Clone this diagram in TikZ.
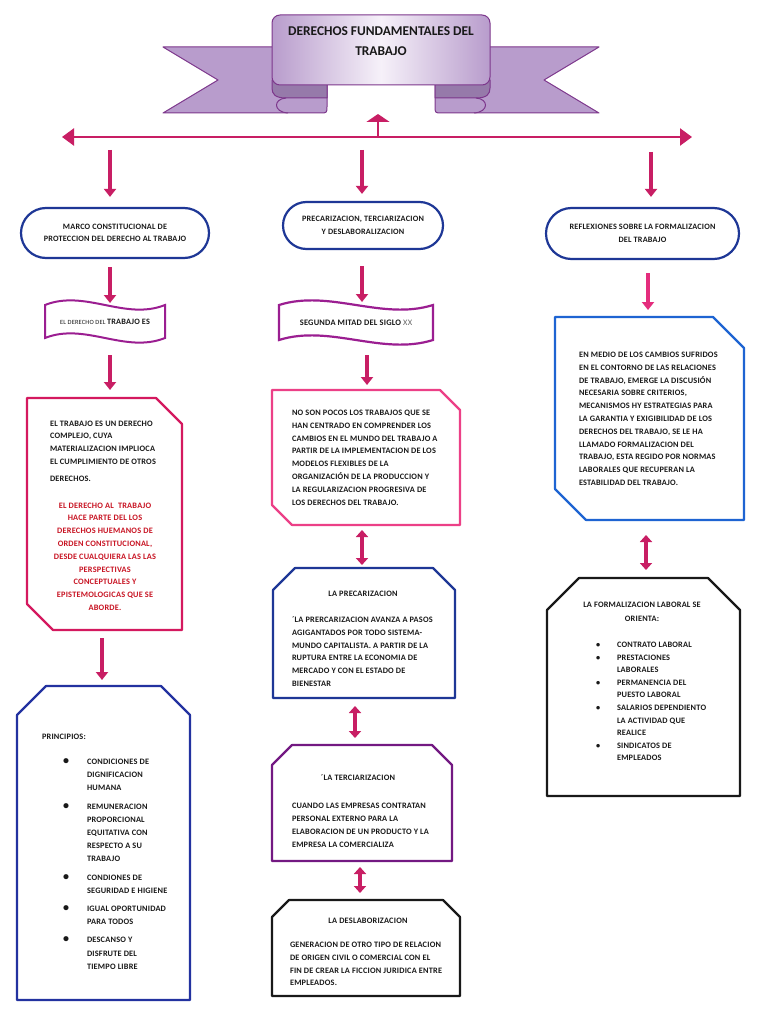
\documentclass[tikz,border=0pt]{standalone}
\usepackage{fontspec}
\setmainfont{Carlito}
\newfontfamily\spfont{Carlito}[LetterSpace=2.5]
\usetikzlibrary{arrows.meta,shapes.misc}
\definecolor{apink}{RGB}{200,30,100}
\definecolor{apinkb}{RGB}{228,45,125}
\definecolor{tblue}{RGB}{30,55,150}
\definecolor{wavec}{RGB}{155,30,145}
\definecolor{crim}{RGB}{212,25,95}
\definecolor{lpink}{RGB}{236,64,135}
\definecolor{dblue}{RGB}{35,50,160}
\definecolor{lblue}{RGB}{30,100,210}
\definecolor{purp}{RGB}{115,25,130}
\definecolor{tblack}{RGB}{25,25,25}
\definecolor{tred}{RGB}{200,20,35}
\definecolor{banwing}{RGB}{184,156,204}
\definecolor{banfold}{RGB}{150,122,170}
\definecolor{banline}{RGB}{125,55,140}
\definecolor{banmid}{RGB}{246,241,249}
\newcommand\Blk[2]{\begin{tabular}[t]{@{}#1@{}}#2\end{tabular}}
\newcommand\BoxNESW[3]{\draw[#3] (#1.north west) -- ([xshift=-#2]#1.north east) -- ([yshift=-#2]#1.north east) -- (#1.south east) -- ([xshift=#2]#1.south west) -- ([yshift=#2]#1.south west) -- cycle;}
\newcommand\BoxTop[3]{\draw[#3] ([yshift=-#2]#1.north west) -- ([xshift=#2]#1.north west) -- ([xshift=-#2]#1.north east) -- ([yshift=-#2]#1.north east) -- (#1.south east) -- (#1.south west) -- cycle;}
\newcommand\Wave[3]{\draw[#3] (#1.north west) .. controls +(#2,-16) and +(-#2,16) .. (#1.north east) -- (#1.south east) .. controls +(-#2,16) and +(#2,-16) .. (#1.south west) -- cycle;}
\begin{document}
\begin{tikzpicture}[x=1pt,y=-1pt,
 arr/.style={draw=apink, line width=4pt, -{Triangle[width=12pt,length=8pt]}},
 darr/.style={draw=apink, line width=4pt, {Triangle[width=12pt,length=7pt]}-{Triangle[width=12pt,length=7pt]}},
 frame/.style 2 args={rectangle, inner sep=0pt, outer sep=0pt, minimum width=#1, minimum height=#2},
 term/.style={rounded rectangle, draw=tblue, line width=2.2pt, inner sep=0pt, align=center, font=\spfont\fontsize{8.2}{12}\selectfont\bfseries, text=tblack},
 txt/.style={inner sep=0pt, outer sep=0pt, font=\spfont\fontsize{8.3}{12.8}\selectfont\bfseries, text=tblack},
 boxline/.style={line width=2.2pt, line join=round},
 banl/.style={draw=banline, line width=1pt, line join=round}
]
\useasboundingbox (0,0) rectangle (768,1024);
\fill[white] (0,0) rectangle (768,1024);

% ---------- banner ----------
\filldraw[banl, fill=banwing] (163,47) -- (327,47) -- (327,106) .. controls (327,113) .. (320,113) -- (163,113) -- (218,80) -- cycle;
\filldraw[banl, fill=banwing] (599,47) -- (435,47) -- (435,106) .. controls (435,113) .. (442,113) -- (599,113) -- (544,80) -- cycle;
\filldraw[banl, fill=banfold] (272,80) -- (327,80) -- (327,98) -- (286,98) .. controls (275,98) and (272,94) .. (272,88) -- cycle;
\filldraw[banl, fill=banfold] (490,80) -- (435,80) -- (435,98) -- (476,98) .. controls (487,98) and (490,94) .. (490,88) -- cycle;
\draw[banl] (286,98) .. controls (273,99) and (273,112) .. (288,113);
\draw[banl] (476,98) .. controls (489,99) and (489,112) .. (474,113);
\path[banl, left color=banwing, right color=banwing, middle color=banmid, rounded corners=8] (272,85) -- (272,15) -- (490,15) -- (490,85) -- cycle;
\node[inner sep=0pt, align=center, font=\fontsize{13.4}{20}\selectfont\bfseries, text=tblack] (title) at (381,41) {DERECHOS FUNDAMENTALES DEL\\TRABAJO};

% ---------- top line ----------
\coordinate (hl) at (62,137);
\coordinate (hr) at (692,137);
\coordinate (up) at (378,137);
\coordinate (uptip) at (378,114);
\draw[apink, line width=2.4pt, {Triangle[width=17pt,length=12pt]}-{Triangle[width=17pt,length=12pt]}] (hl) -- (hr);
\draw[apink, line width=2.4pt, -{Triangle[width=23pt,length=8pt]}] (up) -- (uptip);
\coordinate (d1) at (110,137);
\coordinate (d2) at (362,137);
\coordinate (d3) at (651,137);

% ---------- left column ----------
\node[term, minimum width=188pt, minimum height=50pt] (m1) at (115,233) {MARCO CONSTITUCIONAL DE\\PROTECCION DEL DERECHO AL TRABAJO};
\node[frame={120pt}{33pt}, text=tblack] (m2) at (105,321.5) {{\spfont\fontsize{6.4}{7}\selectfont EL DERECHO DEL }{\spfont\fontsize{8.2}{9}\selectfont\bfseries TRABAJO ES}};
\Wave{m2}{40}{line width=2pt, draw=wavec}
\node[frame={155pt}{232pt}] (m3) at (104.5,514) {};
\BoxNESW{m3}{26pt}{boxline, draw=crim}
\node[txt, anchor=base west] (m3a) at (50,426) {\Blk{l}{EL TRABAJO ES UN DERECHO\\COMPLEJO, CUYA\\MATERIALIZACION IMPLIOCA\\EL CUMPLIMIENTO DE OTROS\\[4pt]DERECHOS.}};
\node[txt, anchor=base, text=tred] (m3b) at (105,508) {\Blk{c}{EL DERECHO AL\ \ TRABAJO\\HACE PARTE DEL LOS\\DERECHOS HUEMANOS DE\\ORDEN CONSTITUCIONAL,\\DESDE CUALQUIERA LAS LAS\\PERSPECTIVAS\\CONCEPTUALES Y\\EPISTEMOLOGICAS QUE SE\\ABORDE.}};
\node[frame={173pt}{314pt}] (m4) at (103.5,843) {};
\BoxTop{m4}{29pt}{boxline, draw=dblue}
\node[txt, anchor=base west] (m4a) at (42,739.5) {PRINCIPIOS:};
\node[txt, anchor=base west, font=\spfont\fontsize{8.3}{13.2}\selectfont\bfseries] (m4b) at (63,764.5) {\Blk{p{24pt}@{}l}{{\large •} & CONDICIONES DE\\ & DIGNIFICACION\\ & HUMANA\\[5pt]
{\large •} & REMUNERACION\\ & PROPORCIONAL\\ & EQUITATIVA CON\\ & RESPECTO A SU\\ & TRABAJO\\[5pt]
{\large •} & CONDIONES DE\\ & SEGURIDAD E HIGIENE\\[5pt]
{\large •} & IGUAL OPORTUNIDAD\\ & PARA TODOS\\[5pt]
{\large •} & DESCANSO Y\\ & DISFRUTE DEL\\ & TIEMPO LIBRE}};

% ---------- middle column ----------
\node[term, minimum width=160pt, minimum height=47pt, font=\spfont\fontsize{8.2}{13}\selectfont\bfseries] (c1) at (363,225.5) {PRECARIZACION, TERCIARIZACION\\Y DESLABORALIZACION};
\node[frame={154pt}{35pt}, font=\spfont\fontsize{8.4}{9}\selectfont\bfseries, text=tblack] (c2) at (356,322.5) {SEGUNDA MITAD DEL SIGLO {\mdseries\color{black!60}XX}};
\Wave{c2}{51}{line width=2.2pt, draw=wavec}
\node[frame={188pt}{135pt}] (c3) at (366,457.5) {};
\BoxNESW{c3}{20pt}{boxline, draw=lpink}
\node[txt, anchor=base west] (c3a) at (292,415.5) {\Blk{l}{NO SON POCOS LOS TRABAJOS QUE SE\\HAN CENTRADO EN COMPRENDER LOS\\CAMBIOS EN EL MUNDO DEL TRABAJO A\\PARTIR DE LA IMPLEMENTACION DE LOS\\MODELOS FLEXIBLES DE LA\\ORGANIZACIÓN DE LA PRODUCCION Y\\LA REGULARIZACION PROGRESIVA DE\\LOS DERECHOS DEL TRABAJO.}};
\node[frame={182pt}{130pt}] (c4) at (364,633) {};
\BoxTop{c4}{22pt}{boxline, draw=tblue}
\node[txt, anchor=base] (c4a) at (363,596.5) {LA PRECARIZACION};
\node[txt, anchor=base west] (c4b) at (292,622.5) {\Blk{l}{´LA PRERCARIZACION AVANZA A PASOS\\AGIGANTADOS POR TODO SISTEMA-\\MUNDO CAPITALISTA. A PARTIR DE LA\\RUPTURA ENTRE LA ECONOMIA DE\\MERCADO Y CON EL ESTADO DE\\BIENESTAR}};
\node[frame={180pt}{116pt}] (c5) at (362,803) {};
\BoxTop{c5}{20pt}{boxline, draw=purp}
\node[txt, anchor=base] (c5a) at (358,780.5) {´LA TERCIARIZACION};
\node[txt, anchor=base west, font=\spfont\fontsize{8.3}{13}\selectfont\bfseries] (c5b) at (292,808.5) {\Blk{l}{CUANDO LAS EMPRESAS CONTRATAN\\PERSONAL EXTERNO PARA LA\\ELABORACION DE UN PRODUCTO Y LA\\EMPRESA LA COMERCIALIZA}};
\node[frame={188pt}{96pt}] (c6) at (366,948) {};
\BoxTop{c6}{17pt}{boxline, draw=tblack}
\node[txt, anchor=base] (c6a) at (368,923.5) {LA DESLABORIZACION};
\node[txt, anchor=base west] (c6b) at (290,947.5) {\Blk{l}{GENERACION DE OTRO TIPO DE RELACION\\DE ORIGEN CIVIL O COMERCIAL CON EL\\FIN DE CREAR LA FICCION JURIDICA ENTRE\\EMPLEADOS.}};

% ---------- right column ----------
\node[term, minimum width=193pt, minimum height=51pt, font=\spfont\fontsize{8.2}{13}\selectfont\bfseries] (r1) at (642.5,233.5) {REFLEXIONES SOBRE LA FORMALIZACION\\DEL TRABAJO};
\node[frame={189pt}{203pt}] (r2) at (649.5,418.5) {};
\BoxNESW{r2}{31pt}{boxline, draw=lblue}
\node[txt, anchor=base west] (r2a) at (579,357.5) {\Blk{l}{EN MEDIO DE LOS CAMBIOS SUFRIDOS\\EN EL CONTORNO DE LAS RELACIONES\\DE TRABAJO, EMERGE LA DISCUSIÓN\\NECESARIA SOBRE CRITERIOS,\\MECANISMOS HY ESTRATEGIAS PARA\\LA GARANTIA Y EXIGIBILIDAD DE LOS\\DERECHOS DEL TRABAJO, SE LE HA\\LLAMADO FORMALIZACION DEL\\TRABAJO, ESTA REGIDO POR NORMAS\\LABORALES QUE RECUPERAN LA\\ESTABILIDAD DEL TRABAJO.}};
\node[frame={193pt}{218pt}] (r3) at (643.5,687) {};
\BoxTop{r3}{32pt}{boxline, draw=tblack}
\node[txt, anchor=base, font=\spfont\fontsize{8.3}{14}\selectfont\bfseries] (r3a) at (642,607.5) {\Blk{c}{LA FORMALIZACION LABORAL SE\\ORIENTA:}};
\node[txt, anchor=base west, font=\spfont\fontsize{8.3}{12.6}\selectfont\bfseries] (r3b) at (596,647.5) {\Blk{p{21pt}@{}l}{• & CONTRATO LABORAL\\• & PRESTACIONES\\ & LABORALES\\• & PERMANENCIA DEL\\ & PUESTO LABORAL\\• & SALARIOS DEPENDIENTO\\ & LA ACTIVIDAD QUE\\ & REALICE\\• & SINDICATOS DE\\ & EMPLEADOS}};

% ---------- connectors ----------
\draw[arr, shorten <=13pt, shorten >=10pt] (d1) -- (d1 |- m1.north);
\draw[arr, shorten <=13pt, shorten >=7pt] (d2) -- (d2 |- c1.north);
\draw[arr, shorten <=15pt, shorten >=10pt] (d3) -- (d3 |- r1.north);
\draw[arr, shorten <=8pt, shorten >=2pt] ([xshift=-5pt]m1.south) -- ([xshift=-5pt]m1.south |- m2.north);
\draw[arr, shorten <=17pt, shorten >=8pt] ([xshift=5pt]m2.south) -- ([xshift=5pt]m2.south |- m3.north);
\draw[arr, shorten <=8pt, shorten >=6pt] ([xshift=-2.5pt]m3.south) -- ([xshift=-2.5pt]m3.south |- m4.north);
\draw[arr, shorten <=16pt, shorten >=3pt] ([xshift=-1pt]c1.south) -- ([xshift=-1pt]c1.south |- c2.north);
\draw[arr, shorten <=15pt, shorten >=5pt] ([xshift=11pt]c2.south) -- ([xshift=11pt]c2.south |- c3.north);
\draw[darr, shorten <=5pt, shorten >=3pt] ([xshift=-4pt]c3.south) -- ([xshift=-4pt]c3.south |- c4.north);
\draw[darr, shorten <=8pt, shorten >=7pt] ([xshift=-9pt]c4.south) -- ([xshift=-9pt]c4.south |- c5.north);
\draw[darr, shorten <=6pt, shorten >=7pt] ([xshift=-2pt]c5.south) -- ([xshift=-2pt]c5.south |- c6.north);
\draw[arr, draw=apinkb, shorten <=13pt, shorten >=7pt] ([xshift=5.5pt]r1.south) -- ([xshift=5.5pt]r1.south |- r2.north);
\draw[darr, shorten <=15pt, shorten >=8pt] ([xshift=-3.5pt]r2.south) -- ([xshift=-3.5pt]r2.south |- r3.north);
\end{tikzpicture}
\end{document}
